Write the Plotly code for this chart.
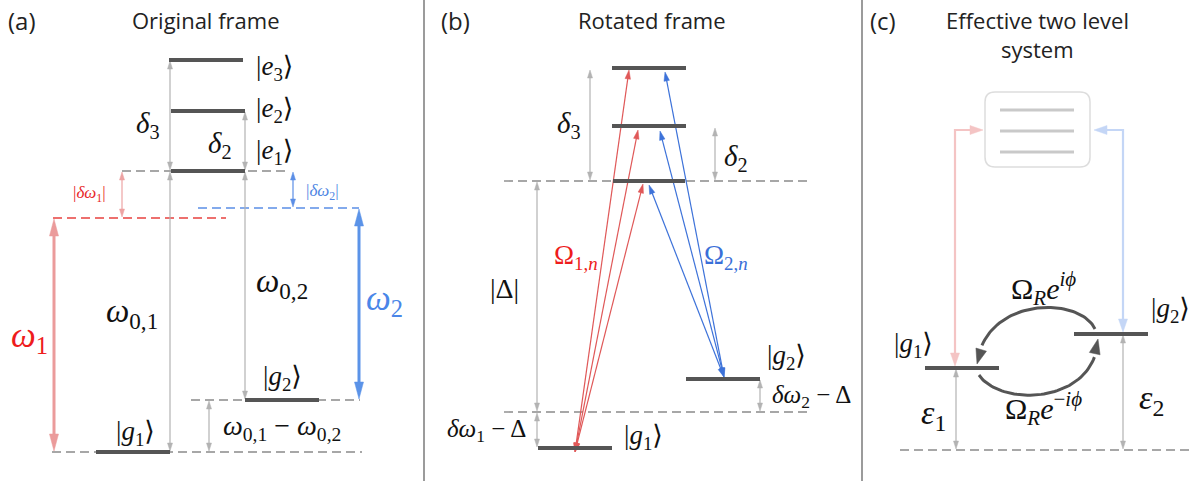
import numpy as np
import plotly.graph_objects as go

W, H = 1191, 483

# ---------------- data (pixel-space diagram coordinates) ----------------
# Panel (a) energy levels
A_LEVEL_NAMES = ["e3", "e2", "e1", "g1", "g2"]
A_LEVEL_X0 = [169, 171, 171, 96, 245]
A_LEVEL_X1 = [243, 245, 245, 170, 319]
A_LEVEL_Y = [60, 111, 171, 452, 400]
# Panel (b) energy levels
B_LEVEL_NAMES = ["e3", "e2", "e1", "g1", "g2"]
B_LEVEL_X0 = [612, 612, 613, 538, 686]
B_LEVEL_X1 = [686, 686, 685, 612, 760]
B_LEVEL_Y = [68, 126, 181, 448, 379]
# Panel (c) energy levels
C_LEVEL_NAMES = ["g1", "g2"]
C_LEVEL_X0 = [925, 1074]
C_LEVEL_X1 = [999, 1148]
C_LEVEL_Y = [368, 334]

# dashed reference lines: x0, x1, y, colour
DASH_X0 = [122, 52, 191, 53, 198, 504, 504, 900]
DASH_X1 = [290, 362, 360, 226, 359, 809, 809, 1191]
DASH_Y = [171, 452, 400, 218, 208, 181, 412, 450]
DASH_COLOR = ["#8a8a8a", "#8a8a8a", "#8a8a8a", "#e8413f", "#5b8ee6", "#8a8a8a", "#8a8a8a", "#8a8a8a"]

# vertical double arrows: x, y top, y bottom, colour, width, head length, head width
VARR_X = [170, 245, 170, 245, 209, 122, 293, 54, 359, 590, 715, 537, 537, 760, 956, 1123]
VARR_Y0 = [61, 112, 172, 172, 401, 172, 172, 219, 209, 70, 128, 182, 413, 380, 369, 335]
VARR_Y1 = [170, 170, 451, 399, 451, 217, 207, 451, 399, 180, 180, 411, 447, 411, 449, 449]
VARR_COLOR = ["#b3b3b3"] * 5 + ["#eda3a3", "#5b8ee6", "#eb9b9b", "#5b93e8"] + ["#b3b3b3"] * 7
VARR_LW = [1.2] * 5 + [1.2, 1.2, 3, 3] + [1.2] * 7
VARR_HL = [8] * 5 + [8, 8, 17, 17] + [8] * 7
VARR_HW = [5] * 5 + [5, 5, 9, 9] + [5] * 7

# coupling arrows in panel (b): start (ground) -> end (excited)
RED_FROM = [(575, 452), (575, 452), (575, 452)]
RED_TO = [(629, 70), (638, 130), (643, 184)]
BLUE_FROM = [(724, 377), (724, 377), (724, 377)]
BLUE_TO = [(665, 72), (660, 131), (649, 185)]

# text labels: text, x, y, size, colour, family
SANS = "Open Sans, Lato, sans-serif"
SERIF = "Liberation Serif, DejaVu Serif, serif"
LABEL_TEXT = [
    "(a)", "Original frame", "(b)", "Rotated frame", "(c)", "Effective two level", "system",
    "|<i>e</i><sub>3</sub>⟩", "|<i>e</i><sub>2</sub>⟩", "|<i>e</i><sub>1</sub>⟩",
    "<i>δ</i><sub>3</sub>", "<i>δ</i><sub>2</sub>",
    "|<i>δω</i><sub>1</sub>|", "|<i>δω</i><sub>2</sub>|",
    "<i>ω</i><sub>1</sub>", "<i>ω</i><sub>2</sub>",
    "<i>ω</i><sub>0,1</sub>", "<i>ω</i><sub>0,2</sub>",
    "|<i>g</i><sub>1</sub>⟩", "|<i>g</i><sub>2</sub>⟩",
    "<i>ω</i><sub>0,1</sub> − <i>ω</i><sub>0,2</sub>",
    "<i>δ</i><sub>3</sub>", "<i>δ</i><sub>2</sub>", "|Δ|",
    "Ω<sub>1,<i>n</i></sub>", "Ω<sub>2,<i>n</i></sub>",
    "|<i>g</i><sub>2</sub>⟩", "<i>δω</i><sub>2</sub> − Δ", "<i>δω</i><sub>1</sub> − Δ", "|<i>g</i><sub>1</sub>⟩",
    "|<i>g</i><sub>1</sub>⟩", "|<i>g</i><sub>2</sub>⟩",
    "Ω<sub><i>R</i></sub><i>e</i><sup><i>iϕ</i></sup>", "Ω<sub><i>R</i></sub><i>e</i><sup>−<i>iϕ</i></sup>",
    "<i>ε</i><sub>1</sub>", "<i>ε</i><sub>2</sub>",
]
LABEL_X = [22, 205, 455, 652, 883, 1037, 1037,
           274, 274, 274, 148, 220, 89, 322, 29, 384, 132, 282, 135, 282, 282,
           569, 736, 504, 576, 726, 786, 811, 486, 643,
           913, 1170, 1043, 1043, 933, 1151]
LABEL_Y = [20, 20, 20, 20, 20, 20, 49,
           68, 110, 152, 125, 145, 194, 192, 337, 300, 313, 283, 433, 378, 427,
           125, 158, 288, 257, 257, 357, 396, 430, 437,
           345, 310, 288, 408, 415, 400]
LABEL_SIZE = [24, 22, 24, 22, 24, 22, 22,
              27, 27, 27, 29, 29, 17, 17, 35, 35, 33, 33, 27, 27, 28,
              29, 29, 28, 27, 27, 27, 25, 25, 27,
              27, 27, 30, 30, 34, 34]
LABEL_COLOR = ["#222"] * 7 + ["#111"] * 5 + ["#e8282a", "#4f86e3", "#ee1c1c", "#4a86e8"] + ["#111"] * 8 + \
              ["#ee1c1c", "#3a6fd8"] + ["#111"] * 10
LABEL_FAMILY = [SANS] * 7 + [SERIF] * 29

# ---------------- helpers ----------------
fig = go.Figure()


def line(xs, ys, color, width, dash="solid"):
    fig.add_trace(go.Scatter(x=xs, y=ys, mode="lines", line=dict(color=color, width=width, dash=dash),
                             hoverinfo="skip", showlegend=False))


def head(tip, prev, L, Wd, color):
    tip = np.array(tip, float)
    prev = np.array(prev, float)
    d = tip - prev
    d /= np.linalg.norm(d)
    p = np.array([-d[1], d[0]])
    base = tip - L * d
    a = base + p * Wd / 2
    b = base - p * Wd / 2
    fig.add_trace(go.Scatter(x=[tip[0], a[0], b[0], tip[0]], y=[tip[1], a[1], b[1], tip[1]],
                             mode="lines", fill="toself", fillcolor=color, line=dict(color=color, width=0.5),
                             hoverinfo="skip", showlegend=False))


def arrow_path(pts, color, lw, L, Wd, start=True, end=True):
    pts = [np.array(p, float) for p in pts]
    P = [p.copy() for p in pts]
    if end:
        d = P[-1] - P[-2]
        d /= np.linalg.norm(d)
        P[-1] = P[-1] - 0.75 * L * d
    if start:
        d = P[0] - P[1]
        d /= np.linalg.norm(d)
        P[0] = P[0] - 0.75 * L * d
    line([p[0] for p in P], [p[1] for p in P], color, lw)
    if end:
        head(pts[-1], pts[-2], L, Wd, color)
    if start:
        head(pts[0], pts[1], L, Wd, color)


def bezier(p0, c1, c2, p3, n=60):
    t = np.linspace(0, 1, n)[:, None]
    p0, c1, c2, p3 = map(lambda v: np.array(v, float), (p0, c1, c2, p3))
    return (1 - t) ** 3 * p0 + 3 * (1 - t) ** 2 * t * c1 + 3 * (1 - t) * t ** 2 * c2 + t ** 3 * p3


# ---------------- drawing ----------------
# panel dividers
line([424, 424], [0, 481], "#7a7a7a", 1.5)
line([862, 862], [0, 481], "#7a7a7a", 1.5)

# dashed lines
for x0, x1, y, c in zip(DASH_X0, DASH_X1, DASH_Y, DASH_COLOR):
    line([x0, x1], [y, y], c, 1.4, dash="9px,5px")

# vertical double arrows
for x, y0, y1, c, lw, hl, hw in zip(VARR_X, VARR_Y0, VARR_Y1, VARR_COLOR, VARR_LW, VARR_HL, VARR_HW):
    arrow_path([(x, y0), (x, y1)], c, lw, hl, hw)

# coupling arrows panel (b)
for f, t in zip(RED_FROM, RED_TO):
    arrow_path([f, t], "#e05858", 1.2, 9, 5.5)
for f, t in zip(BLUE_FROM, BLUE_TO):
    arrow_path([f, t], "#3d72d9", 1.2, 9, 5.5)

# panel (c): faded excited manifold box
fig.add_shape(type="path",
              path="M 995,92 L 1080,92 Q 1090,92 1090,102 L 1090,157 Q 1090,167 1080,167 "
                   "L 995,167 Q 985,167 985,157 L 985,102 Q 985,92 995,92 Z",
              line=dict(color="#dddddd", width=1.5), fillcolor="rgba(0,0,0,0)", layer="below")
for yy in [110, 131, 152]:
    line([1000, 1074], [yy, yy], "#c9c9c9", 3)

arrow_path([(955, 366), (955, 130), (983, 130)], "#f4c4c4", 2.2, 13, 9)
arrow_path([(1123, 332), (1123, 130), (1094, 130)], "#c4d6f6", 2.2, 13, 9)

# curved Raman arrows
up = bezier((1095, 329), (1080, 296), (985, 296), (977, 364))
line(up[:-6, 0], up[:-6, 1], "#555555", 3)
head(up[-1], up[-8], 15, 11, "#555555")
lo = bezier((979, 375), (1000, 407), (1095, 405), (1098, 339))
line(lo[:-6, 0], lo[:-6, 1], "#555555", 3)
head(lo[-1], lo[-8], 15, 11, "#555555")

# energy levels
for X0, X1, Y in [(A_LEVEL_X0, A_LEVEL_X1, A_LEVEL_Y), (B_LEVEL_X0, B_LEVEL_X1, B_LEVEL_Y),
                  (C_LEVEL_X0, C_LEVEL_X1, C_LEVEL_Y)]:
    for x0, x1, y in zip(X0, X1, Y):
        line([x0, x1], [y, y], "#555555", 4)

# labels
for txt, x, y, s, c, fam in zip(LABEL_TEXT, LABEL_X, LABEL_Y, LABEL_SIZE, LABEL_COLOR, LABEL_FAMILY):
    fig.add_annotation(x=x, y=y, text=txt, showarrow=False, xanchor="center", yanchor="middle",
                       font=dict(size=s, color=c, family=fam))

fig.update_layout(
    width=W, height=H, margin=dict(l=0, r=0, t=0, b=0),
    paper_bgcolor="white", plot_bgcolor="white",
    xaxis=dict(range=[0, W], visible=False, fixedrange=True),
    yaxis=dict(range=[H, 0], visible=False, fixedrange=True),
    showlegend=False,
)

fig.write_html("out.html")
